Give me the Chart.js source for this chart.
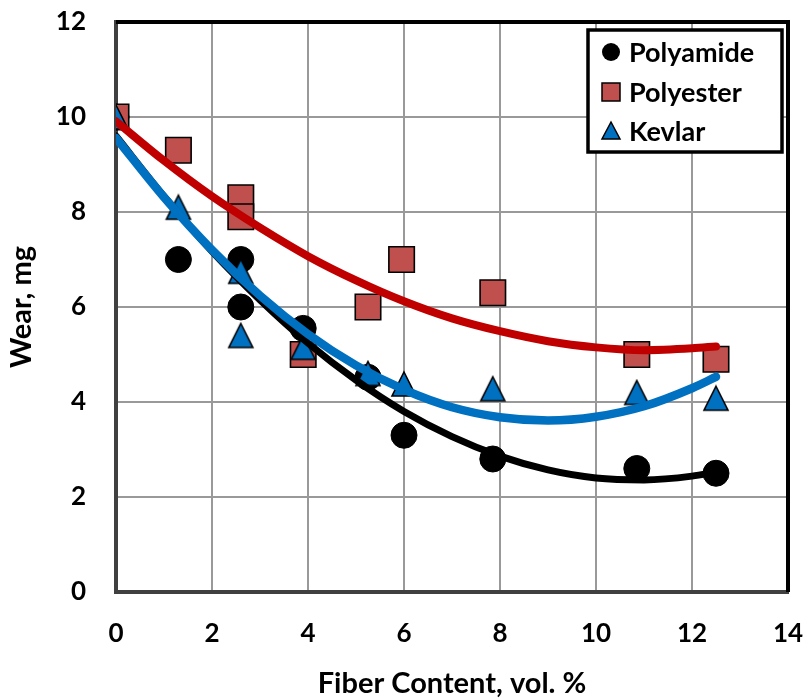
<!DOCTYPE html>
<html>
<head>
<meta charset="utf-8">
<script src="https://cdn.jsdelivr.net/npm/chart.js@4"></script>
<style>
  html, body { margin: 0; padding: 0; background: #ffffff; }
  #wrap { width: 810px; height: 698px; position: relative; }
</style>
</head>
<body>
<div id="wrap"><canvas id="c" width="810" height="698"></canvas></div>
<script>
// ---- data ----
const seriesNames = ['Polyamide', 'Polyester', 'Kevlar'];

const fiberPolyamide = [0, 1.3, 2.6, 2.6, 3.9, 5.25, 6.0, 7.85, 10.85, 12.5];
const wearPolyamide  = [10, 7.0, 7.0, 6.0, 5.55, 4.52, 3.3, 2.8, 2.6, 2.5];

const fiberPolyester = [0, 1.3, 2.6, 2.6, 3.9, 5.25, 5.95, 7.85, 10.85, 12.5];
const wearPolyester  = [10, 9.3, 8.3, 7.9, 5.0, 6.0, 7.0, 6.3, 5.0, 4.9];

const fiberKevlar = [0, 1.3, 2.6, 2.6, 3.9, 5.25, 6.0, 7.85, 10.85, 12.5];
const wearKevlar  = [10, 8.1, 6.75, 5.4, 5.15, 4.6, 4.38, 4.28, 4.2, 4.08];

// trend curves as traced on the picture
const trendX         = [0, 1, 2, 3, 4, 5, 6, 7, 8, 9, 10, 11, 12, 12.5];
const trendPolyamide = [9.6, 8.33, 7.17, 6.15, 5.24, 4.46, 3.80, 3.27, 2.86, 2.57, 2.40, 2.36, 2.44, 2.53];
const trendPolyester = [9.91, 9.08, 8.33, 7.67, 7.07, 6.56, 6.12, 5.76, 5.49, 5.28, 5.15, 5.09, 5.13, 5.17];
const trendKevlar    = [9.56, 8.31, 7.20, 6.24, 5.43, 4.77, 4.26, 3.89, 3.68, 3.61, 3.69, 3.91, 4.29, 4.53];

const xTicks = [0, 2, 4, 6, 8, 10, 12, 14];
const yTicks = [0, 2, 4, 6, 8, 10, 12];
const xTitle = 'Fiber Content, vol. %';
const yTitle = 'Wear, mg';

// ---- helpers ----
function pairs(xs, ys) { return xs.map((x, i) => ({ x: x, y: ys[i] })); }

function triangleCanvas(w, h, lw) {
  const pad = Math.ceil(lw);
  const cv = document.createElement('canvas');
  cv.width = w + 2 * pad; cv.height = h + 2 * pad;
  const g = cv.getContext('2d');
  g.beginPath();
  g.moveTo(pad + w / 2, pad);
  g.lineTo(pad + w, pad + h);
  g.lineTo(pad, pad + h);
  g.closePath();
  g.fillStyle = '#0070C0';
  g.fill();
  g.lineWidth = lw;
  g.strokeStyle = '#000000';
  g.lineJoin = 'miter';
  g.stroke();
  return cv;
}
const triBig = triangleCanvas(24, 24, 1.6);

const FONT = 'Lato, "Liberation Sans", sans-serif';

const frameAndLegend = {
  id: 'frameAndLegend',
  afterDraw(chart) {
    const ctx = chart.ctx;
    const a = chart.chartArea;
    ctx.save();
    // top/right black frame
    ctx.strokeStyle = '#000';
    ctx.lineWidth = 4;
    ctx.beginPath();
    ctx.moveTo(a.left, a.top);
    ctx.lineTo(a.right, a.top);
    ctx.lineTo(a.right, a.bottom);
    ctx.stroke();

    // legend box
    const bx = 588, by = 30, bw = 194, bh = 122;
    ctx.fillStyle = '#fff';
    ctx.fillRect(bx, by, bw, bh);
    ctx.lineWidth = 3.5;
    ctx.strokeStyle = '#000';
    ctx.strokeRect(bx, by, bw, bh);

    const mx = 611;
    const rows = [52, 92, 131];
    // circle
    ctx.beginPath();
    ctx.arc(mx, rows[0], 9, 0, Math.PI * 2);
    ctx.fillStyle = '#000';
    ctx.fill();
    // square
    ctx.fillStyle = '#C0504D';
    ctx.fillRect(mx - 9, rows[1] - 9, 18, 18);
    ctx.lineWidth = 1.5;
    ctx.strokeStyle = '#000';
    ctx.strokeRect(mx - 9, rows[1] - 9, 18, 18);
    // triangle
    ctx.beginPath();
    ctx.moveTo(mx, rows[2] - 9);
    ctx.lineTo(mx + 9, rows[2] + 8);
    ctx.lineTo(mx - 9, rows[2] + 8);
    ctx.closePath();
    ctx.fillStyle = '#0070C0';
    ctx.fill();
    ctx.stroke();

    ctx.fillStyle = '#000';
    ctx.font = 'bold 27px ' + FONT;
    ctx.textAlign = 'left';
    ctx.textBaseline = 'middle';
    seriesNames.forEach((n, i) => ctx.fillText(n, 629, rows[i] + 1));
    ctx.restore();
  }
};

const chart = new Chart(document.getElementById('c'), {
  type: 'scatter',
  data: {
    datasets: [
      {
        label: seriesNames[0] + ' trend',
        data: pairs(trendX, trendPolyamide),
        showLine: true, pointRadius: 0, borderColor: '#000000', borderWidth: 7,
        borderCapStyle: 'round', cubicInterpolationMode: 'monotone', order: 2
      },
      {
        label: seriesNames[1] + ' trend',
        data: pairs(trendX, trendPolyester),
        showLine: true, pointRadius: 0, borderColor: '#C00000', borderWidth: 8,
        borderCapStyle: 'round', cubicInterpolationMode: 'monotone', order: 3
      },
      {
        label: seriesNames[2] + ' trend',
        data: pairs(trendX, trendKevlar),
        showLine: true, pointRadius: 0, borderColor: '#0070C0', borderWidth: 8.5,
        borderCapStyle: 'round', cubicInterpolationMode: 'monotone', order: 1
      },
      {
        label: seriesNames[0],
        data: pairs(fiberPolyamide, wearPolyamide),
        pointStyle: 'circle', pointRadius: 13, backgroundColor: '#000000',
        borderColor: '#000000', borderWidth: 1, order: 6
      },
      {
        label: seriesNames[1],
        data: pairs(fiberPolyester, wearPolyester),
        pointStyle: 'rect', pointRadius: 18, backgroundColor: '#C0504D',
        borderColor: '#000000', borderWidth: 1.6, order: 5
      },
      {
        label: seriesNames[2],
        data: pairs(fiberKevlar, wearKevlar),
        pointStyle: triBig, pointRadius: 13, backgroundColor: '#0070C0',
        borderColor: '#000000', borderWidth: 1.6, order: 4
      }
    ]
  },
  options: {
    responsive: false,
    animation: false,
    layout: { padding: { top: 22, right: 22, left: 0, bottom: 0 } },
    plugins: { legend: { display: false }, tooltip: { enabled: false } },
    scales: {
      x: {
        type: 'linear', min: 0, max: 14,
        afterBuildTicks: s => { s.ticks = xTicks.map(v => ({ value: v })); },
        afterFit: s => { s.height = 106; },
        ticks: { color: '#000', font: { family: FONT, size: 26, weight: 'bold' }, padding: 2, maxRotation: 0 },
        grid: { color: '#999999', lineWidth: 2, drawTicks: true, tickLength: 24, tickColor: 'rgba(0,0,0,0)' },
        border: { display: true, color: '#404040', width: 4 },
        title: { display: true, text: xTitle, color: '#000', font: { family: FONT, size: 29, weight: 'bold', lineHeight: 1.0 }, padding: { top: 0, bottom: 0 } }
      },
      y: {
        type: 'linear', min: 0, max: 12,
        afterBuildTicks: s => { s.ticks = yTicks.map(v => ({ value: v })); },
        afterFit: s => { s.width = 116; },
        ticks: { color: '#000', font: { family: FONT, size: 26, weight: 'bold' }, padding: 2 },
        grid: { color: '#999999', lineWidth: 2, drawTicks: true, tickLength: 28, tickColor: 'rgba(0,0,0,0)' },
        border: { display: true, color: '#404040', width: 4 },
        title: { display: true, text: yTitle, color: '#000', font: { family: FONT, size: 29, weight: 'bold' }, padding: { top: 4, bottom: 0 } }
      }
    }
  },
  plugins: [frameAndLegend]
});
</script>
</body>
</html>
